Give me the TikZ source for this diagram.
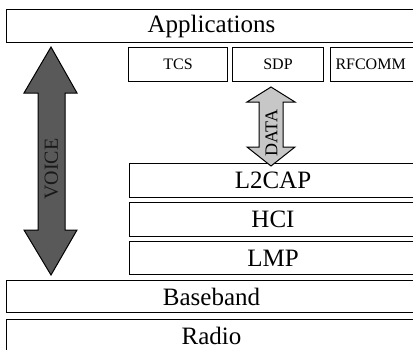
\documentclass[tikz,border=0pt]{standalone}
\usepackage{fontspec}
\setmainfont{Liberation Serif}
\begin{document}
\begin{tikzpicture}[x=1pt,y=-1pt,
  layer/.style={draw, line width=1pt, anchor=north west, inner sep=0pt,
    font=\fontsize{25}{25}\selectfont},
  sublayer/.style={draw, line width=1pt, anchor=north west, inner sep=0pt,
    font=\fontsize{16}{16}\selectfont},
  bigarrow/.style={draw, line width=1pt, line join=miter},
  arrowlabel/.style={rotate=90, inner sep=0pt}
]
\clip (0,0) rectangle (413,349);
\fill[white] (0,0) rectangle (413,349);

% protocol stack layers
\node[layer, minimum width=410pt, minimum height=33pt] (app) at (6,9) {Applications};
\node[sublayer, minimum width=99pt, minimum height=34pt] (tcs) at (128,47) {TCS};
\node[sublayer, minimum width=91pt, minimum height=34pt] (sdp) at (232,47) {SDP};
\node[sublayer, minimum width=90pt, minimum height=34pt, text width=82pt, align=left] (rfc) at (330,47) {\hspace*{1pt}RFCOMM};
\node[layer, minimum width=287pt, minimum height=34pt] (l2cap) at (129,163) {L2CAP};
\node[layer, minimum width=287pt, minimum height=34pt] (hci) at (129,202) {HCI};
\node[layer, minimum width=287pt, minimum height=33pt] (lmp) at (129,241) {LMP};
\node[layer, minimum width=410pt, minimum height=32pt] (bb) at (6,280) {Baseband};
\node[layer, minimum width=410pt, minimum height=33pt] (radio) at (6,319) {Radio};

% voice path: double arrow on the left
\draw[bigarrow, fill=black!65] (51,47) -- (77,93) -- (65,93) -- (65,230) -- (77,230)
  -- (51,275) -- (24,230) -- (38,230) -- (38,93) -- (24,93) -- cycle;
\node[arrowlabel, font=\fontsize{20}{20}\selectfont, text=black!90] (voice) at (51.5,169) {VOICE};

% data path between the upper protocols and L2CAP
\draw[bigarrow, fill=black!22] (271,87) -- (295,102) -- (283,102) -- (283,147) -- (295,147)
  -- (271,166) -- (247,147) -- (259,147) -- (259,102) -- (247,102) -- cycle;
\node[arrowlabel, font=\fontsize{18}{18}\selectfont] (data) at (271.5,133) {DATA};
\end{tikzpicture}
\end{document}
